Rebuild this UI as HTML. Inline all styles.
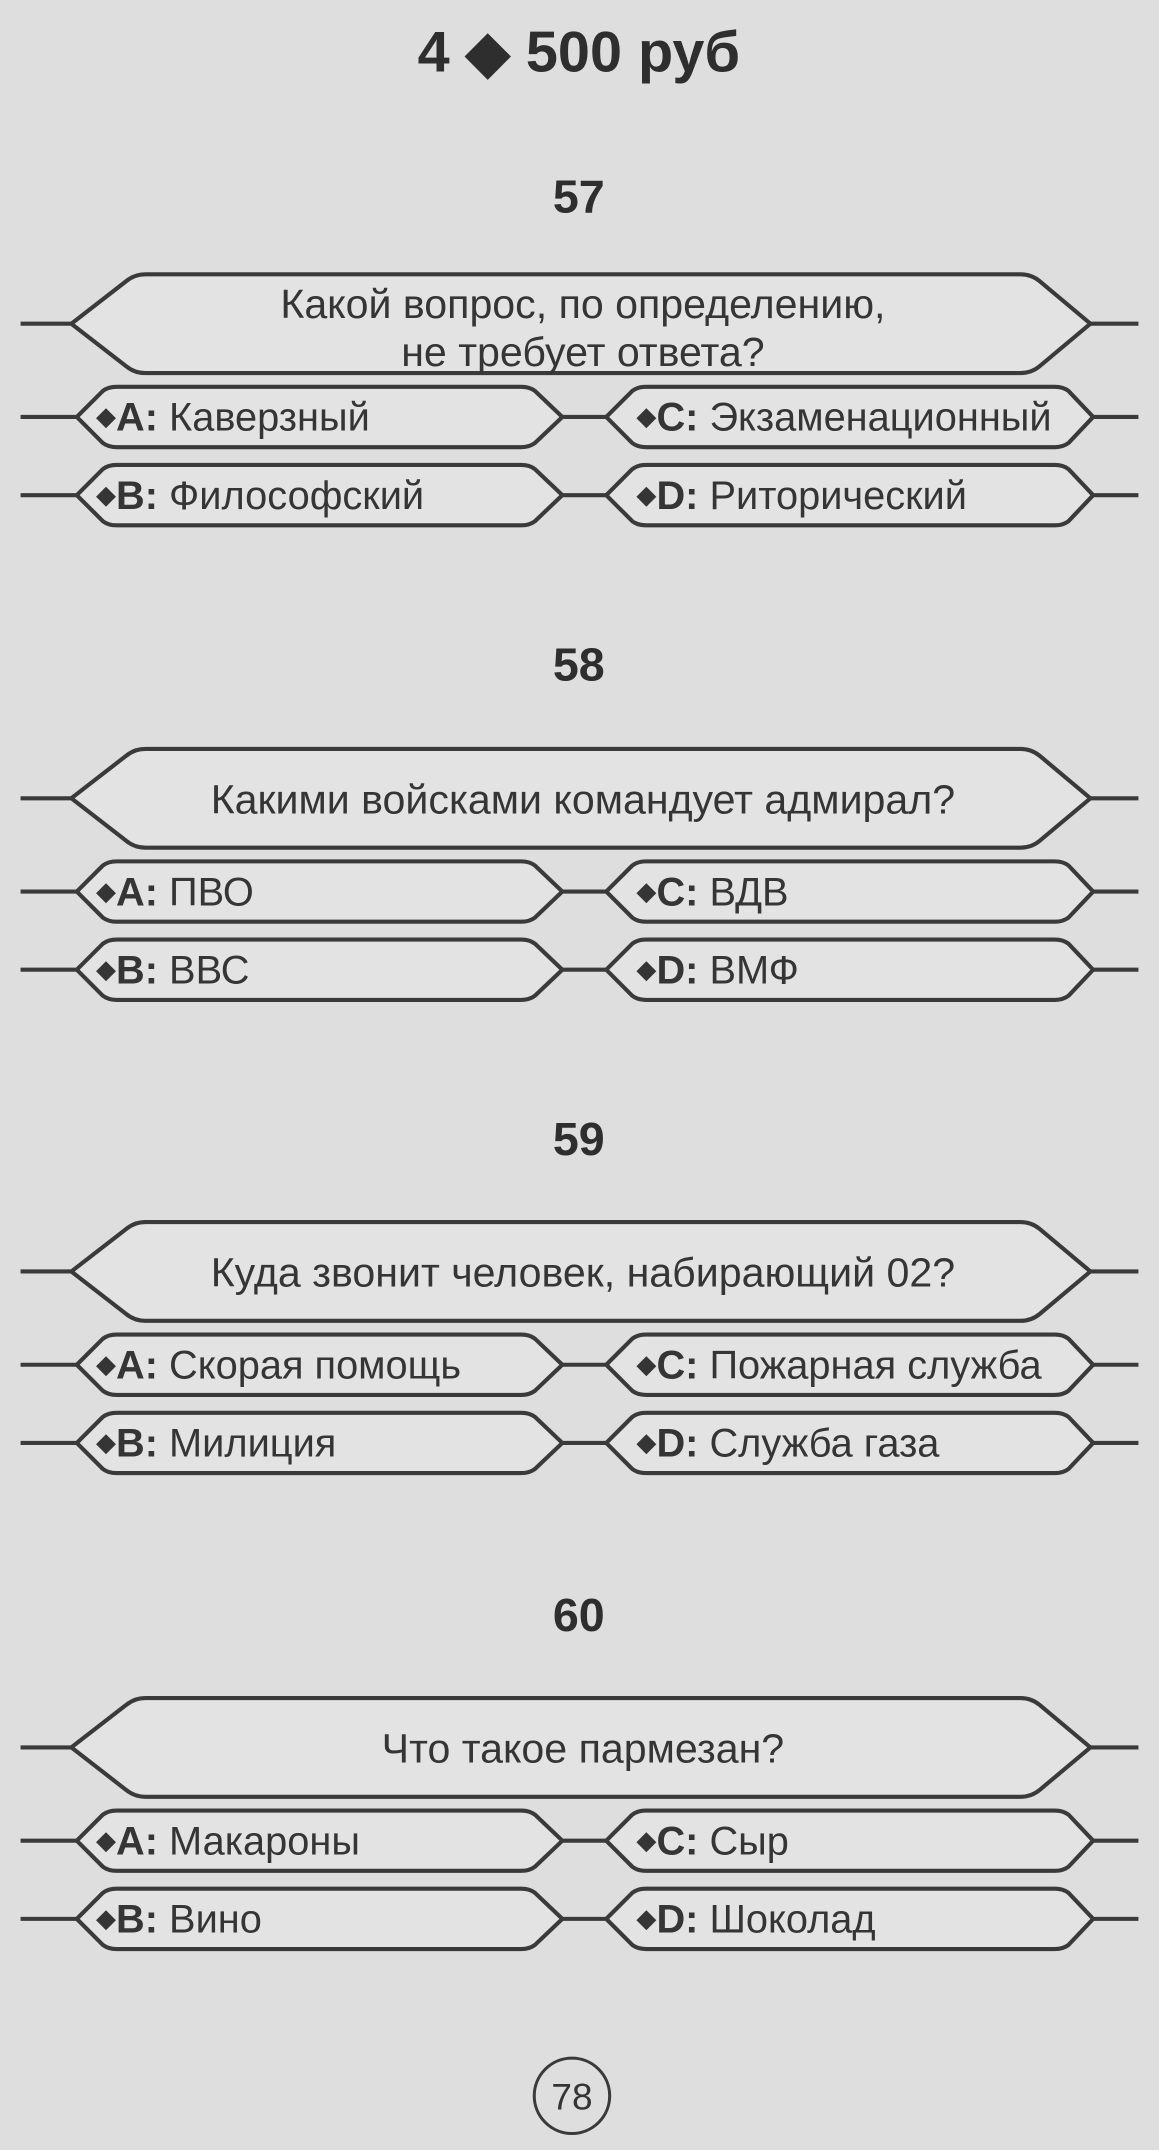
<!DOCTYPE html>
<html><head><meta charset="utf-8"><style>
html,body{margin:0;padding:0;background:#dedede;}
svg{display:block}
text{font-family:"Liberation Sans",sans-serif;fill:#353535}
.q{font-size:30px;text-anchor:middle}
.a{font-size:29px}
.b{font-weight:bold}
.d{font-size:19px}
.n{font-size:34px;font-weight:bold;text-anchor:middle;fill:#2e2e2e}
.s{fill:#e3e3e3;stroke:#3a3a3a;stroke-width:3;stroke-linejoin:round}
.l{stroke:#3a3a3a;stroke-width:3}
</style></head><body>
<svg width="1159" height="2150" viewBox="0 0 845 1567.5" xmlns="http://www.w3.org/2000/svg">
<rect width="845" height="1568" fill="#dedede"/>
<text x="422" y="52" class="n" style="font-size:42px">4 ◆ 500 руб</text>
<defs>
<g id="frame">
<line class="l" x1="15" y1="236" x2="52" y2="236"/>
<line class="l" x1="795" y1="236" x2="830" y2="236"/>
<path class="s" d="M52 236 L92 205 Q98 200 106 200 L744 200 Q752 200 758 205 L795 236 L758 267 Q752 272 744 272 L106 272 Q98 272 92 267 Z"/>
<line class="l" x1="15" y1="304" x2="56" y2="304"/>
<line class="l" x1="410" y1="304" x2="442" y2="304"/>
<line class="l" x1="795" y1="304" x2="830" y2="304"/>
<path class="s" d="M56 304 L75 285 Q79 282 85 282 L380 282 Q386 282 390 285 L410 304 L390 323 Q386 326 380 326 L85 326 Q79 326 75 323 Z"/>
<path class="s" d="M442 304 L461 285 Q465 282 471 282 L769 282 Q775 282 779 285 L797 304 L779 323 Q775 326 769 326 L471 326 Q465 326 461 323 Z"/>
<line class="l" x1="15" y1="361" x2="56" y2="361"/>
<line class="l" x1="410" y1="361" x2="442" y2="361"/>
<line class="l" x1="795" y1="361" x2="830" y2="361"/>
<path class="s" d="M56 361 L75 342 Q79 339 85 339 L380 339 Q386 339 390 342 L410 361 L390 380 Q386 383 380 383 L85 383 Q79 383 75 380 Z"/>
<path class="s" d="M442 361 L461 342 Q465 339 471 339 L769 339 Q775 339 779 342 L797 361 L779 380 Q775 383 769 383 L471 383 Q465 383 461 380 Z"/>
</g>
</defs>

<g>
<text x="422" y="155" class="n">57</text>
<use href="#frame"/>
<text x="425" y="232" class="q">Какой вопрос, по определению,</text>
<text x="425" y="267" class="q">не требует ответа?</text>
<text x="70" y="314" class="a"><tspan class="d" dy="-4">◆</tspan><tspan class="b" dy="4">A:</tspan> Каверзный</text>
<text x="464" y="314" class="a"><tspan class="d" dy="-4">◆</tspan><tspan class="b" dy="4">C:</tspan> Экзаменационный</text>
<text x="70" y="371" class="a"><tspan class="d" dy="-4">◆</tspan><tspan class="b" dy="4">B:</tspan> Философский</text>
<text x="464" y="371" class="a"><tspan class="d" dy="-4">◆</tspan><tspan class="b" dy="4">D:</tspan> Риторический</text>
</g>

<g transform="translate(0,346)">
<text x="422" y="150" class="n">58</text>
<use href="#frame"/>
<text x="425" y="247" class="q">Какими войсками командует адмирал?</text>
<text x="70" y="314" class="a"><tspan class="d" dy="-4">◆</tspan><tspan class="b" dy="4">A:</tspan> ПВО</text>
<text x="464" y="314" class="a"><tspan class="d" dy="-4">◆</tspan><tspan class="b" dy="4">C:</tspan> ВДВ</text>
<text x="70" y="371" class="a"><tspan class="d" dy="-4">◆</tspan><tspan class="b" dy="4">B:</tspan> ВВС</text>
<text x="464" y="371" class="a"><tspan class="d" dy="-4">◆</tspan><tspan class="b" dy="4">D:</tspan> ВМФ</text>
</g>

<g transform="translate(0,691)">
<text x="422" y="151" class="n">59</text>
<use href="#frame"/>
<text x="425" y="247" class="q">Куда звонит человек, набирающий 02?</text>
<text x="70" y="314" class="a"><tspan class="d" dy="-4">◆</tspan><tspan class="b" dy="4">A:</tspan> Скорая помощь</text>
<text x="464" y="314" class="a"><tspan class="d" dy="-4">◆</tspan><tspan class="b" dy="4">C:</tspan> Пожарная служба</text>
<text x="70" y="371" class="a"><tspan class="d" dy="-4">◆</tspan><tspan class="b" dy="4">B:</tspan> Милиция</text>
<text x="464" y="371" class="a"><tspan class="d" dy="-4">◆</tspan><tspan class="b" dy="4">D:</tspan> Служба газа</text>
</g>

<g transform="translate(0,1038)">
<text x="422" y="151" class="n">60</text>
<use href="#frame"/>
<text x="425" y="247" class="q">Что такое пармезан?</text>
<text x="70" y="314" class="a"><tspan class="d" dy="-4">◆</tspan><tspan class="b" dy="4">A:</tspan> Макароны</text>
<text x="464" y="314" class="a"><tspan class="d" dy="-4">◆</tspan><tspan class="b" dy="4">C:</tspan> Сыр</text>
<text x="70" y="371" class="a"><tspan class="d" dy="-4">◆</tspan><tspan class="b" dy="4">B:</tspan> Вино</text>
<text x="464" y="371" class="a"><tspan class="d" dy="-4">◆</tspan><tspan class="b" dy="4">D:</tspan> Шоколад</text>
</g>

<circle cx="417" cy="1528" r="27.5" fill="none" stroke="#3a3a3a" stroke-width="2.2"/>
<text x="417" y="1538" style="font-size:27px;text-anchor:middle">78</text>
</svg>
</body></html>
